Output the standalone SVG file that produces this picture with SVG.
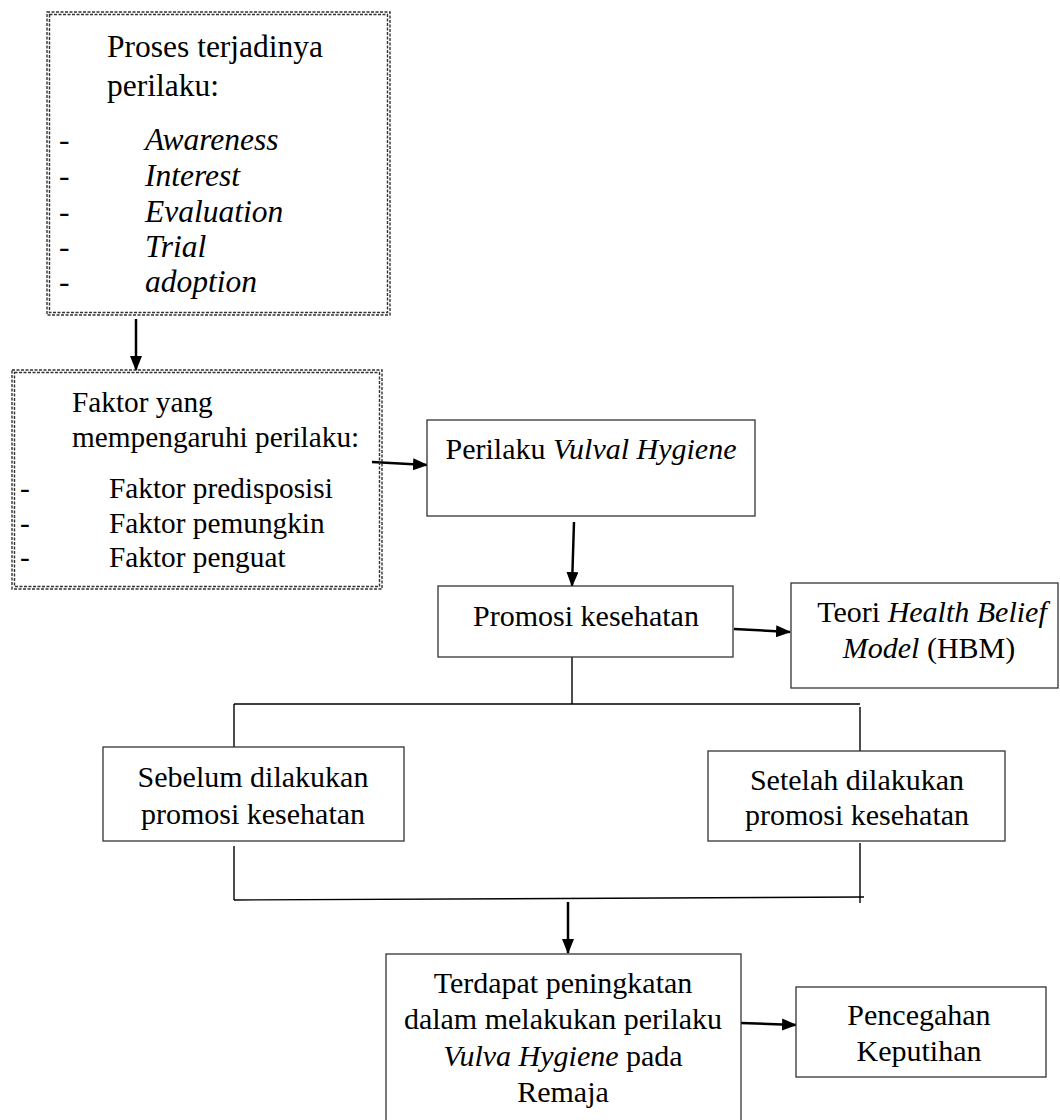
<svg xmlns="http://www.w3.org/2000/svg" width="1060" height="1120" viewBox="0 0 1060 1120">
<style>
text{font-family:"Liberation Serif","Times New Roman",serif;font-size:30px;fill:#000}
.t{font-size:31.5px}
.f{font-size:29.3px}
.i{font-style:italic}
.box{fill:#fff;stroke:#333;stroke-width:1.3}
.dot{fill:none;stroke:#333;stroke-width:1.4;stroke-dasharray:3 1.5}
.ln{fill:none;stroke:#000;stroke-width:1.4}
.ar{fill:none;stroke:#000;stroke-width:2.5;marker-end:url(#ah)}
</style>
<defs>
<marker id="ah" markerWidth="15" markerHeight="12" refX="14" refY="6" orient="auto" markerUnits="userSpaceOnUse">
<path d="M0,0 L15,6 L0,12 Z" fill="#000"/>
</marker>
</defs>
<rect width="1060" height="1120" fill="#fff"/>
<g id="connectors">
<line class="ar" x1="136" y1="319" x2="136" y2="370"/>
<line class="ar" x1="372" y1="462" x2="427" y2="465"/>
<line class="ar" x1="574" y1="522" x2="572" y2="586"/>
<line class="ar" x1="734" y1="629" x2="790" y2="632"/>
<polyline class="ln" points="572,652 572,704"/>
<line class="ln" x1="234" y1="704" x2="860" y2="704"/>
<line class="ln" x1="234" y1="704" x2="234" y2="747"/>
<line class="ln" x1="860" y1="707" x2="860" y2="751"/>
<line class="ln" x1="234" y1="846" x2="234" y2="900"/>
<line class="ln" x1="860" y1="843" x2="860" y2="903"/>
<line class="ln" x1="234" y1="900" x2="864" y2="897"/>
<line class="ar" x1="568" y1="902" x2="568" y2="953"/>
<line class="ar" x1="741" y1="1023" x2="796" y2="1025"/>
</g>
<g id="proses">
<rect class="dot" x="47" y="12" width="343" height="303"/>
<rect class="dot" x="49.5" y="14.5" width="338" height="298"/>
<text class="t" x="107" y="57">Proses terjadinya</text>
<text class="t" x="107" y="96">perilaku:</text>
<text class="t" x="59" y="150">-</text><text class="t i" x="145" y="150">Awareness</text>
<text class="t" x="59" y="186">-</text><text class="t i" x="145" y="186">Interest</text>
<text class="t" x="59" y="222">-</text><text class="t i" x="145" y="222">Evaluation</text>
<text class="t" x="59" y="257">-</text><text class="t i" x="145" y="257">Trial</text>
<text class="t" x="59" y="292">-</text><text class="t i" x="145" y="292">adoption</text>
</g>
<g id="faktor">
<rect class="dot" x="12" y="370" width="370" height="219"/>
<rect class="dot" x="14.5" y="372.5" width="365" height="214"/>
<text class="f" x="72" y="412">Faktor yang</text>
<text class="f" x="72" y="447">mempengaruhi perilaku:</text>
<text class="f" x="20" y="498">-</text><text class="f" x="109" y="498">Faktor predisposisi</text>
<text class="f" x="20" y="533">-</text><text class="f" x="109" y="533">Faktor pemungkin</text>
<text class="f" x="20" y="567">-</text><text class="f" x="109" y="567">Faktor penguat</text>
</g>
<g id="perilaku">
<rect class="box" x="427" y="420" width="328" height="96"/>
<text x="591" y="459" text-anchor="middle">Perilaku <tspan class="i">Vulval Hygiene</tspan></text>
</g>
<g id="promosi">
<rect class="box" x="438" y="586" width="295" height="71"/>
<text x="586" y="626" text-anchor="middle">Promosi kesehatan</text>
</g>
<g id="hbm">
<rect class="box" x="791" y="583" width="267" height="105"/>
<text x="932" y="622" text-anchor="middle">Teori <tspan class="i">Health Belief</tspan></text>
<text x="929" y="658" text-anchor="middle"><tspan class="i">Model</tspan> (HBM)</text>
</g>
<g id="sebelum">
<rect class="box" x="103" y="747" width="301" height="94"/>
<text x="253" y="787" text-anchor="middle">Sebelum dilakukan</text>
<text x="253" y="824" text-anchor="middle">promosi kesehatan</text>
</g>
<g id="setelah">
<rect class="box" x="708" y="751" width="297" height="90"/>
<text x="857" y="790" text-anchor="middle">Setelah dilakukan</text>
<text x="857" y="825" text-anchor="middle">promosi kesehatan</text>
</g>
<g id="terdapat">
<rect class="box" x="386" y="954" width="355" height="170"/>
<text x="563" y="993" text-anchor="middle">Terdapat peningkatan</text>
<text x="563" y="1029" text-anchor="middle">dalam melakukan perilaku</text>
<text x="563" y="1066" text-anchor="middle"><tspan class="i">Vulva Hygiene</tspan> pada</text>
<text x="563" y="1102" text-anchor="middle">Remaja</text>
</g>
<g id="pencegahan">
<rect class="box" x="796" y="987" width="250" height="90"/>
<text x="919" y="1025" text-anchor="middle">Pencegahan</text>
<text x="919" y="1061" text-anchor="middle">Keputihan</text>
</g>
</svg>
